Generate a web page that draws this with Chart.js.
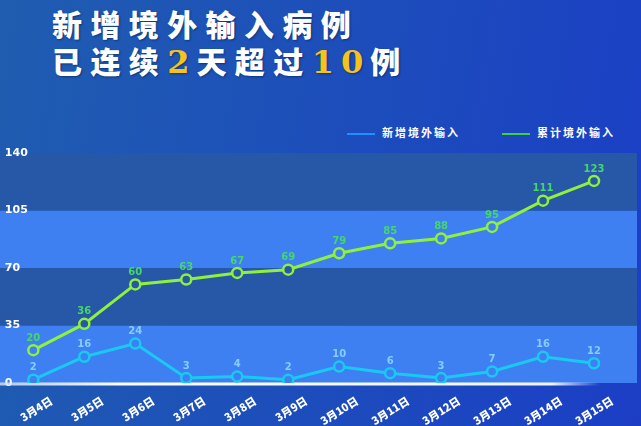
<!DOCTYPE html>
<html>
<head>
<meta charset="utf-8">
<script src="https://cdn.jsdelivr.net/npm/chart.js@4.4.1/dist/chart.umd.min.js"></script>
<style>
  html, body { margin: 0; padding: 0; }
  body {
    width: 641px; height: 426px; overflow: hidden; position: relative;
    background: linear-gradient(100deg, #1f5db0 0%, #1d4fba 45%, #1b3ec6 100%);
    font-family: "Noto Sans CJK SC", "Noto Sans", sans-serif;
  }
  #title {
    position: absolute; left: 52px; top: 5px;
    color: #fff; font-size: 30px; font-weight: 900; line-height: 37px;
    letter-spacing: 8.4px; white-space: nowrap;
    text-shadow: 1px 1px 2px rgba(0, 20, 60, 0.5);
  }
  #title .num {
    color: #f6c21c; font-family: "DejaVu Serif", serif; font-weight: 700; font-size: 32px;
    letter-spacing: 7px;
  }
  #legend {
    position: absolute; top: 124px; left: 0; width: 641px; height: 16px;
    color: #fff; font-size: 11px; font-weight: 700; letter-spacing: 2px;
  }
  .item { position: absolute; top: 0; height: 16px; line-height: 16px; white-space: nowrap; }
  .item i { display: inline-block; width: 28px; height: 2px; vertical-align: middle; margin-right: 7px; }
  canvas { position: absolute; left: 0; top: 0; }
</style>
</head>
<body>
<div id="title">新增境外输入病例<br>已连续<span class="num">2</span>天超过<span class="num">10</span>例</div>
<div id="legend"></div>
<canvas id="myChart" width="641" height="426"></canvas>
<script>
const dates = ["3月4日", "3月5日", "3月6日", "3月7日", "3月8日", "3月9日",
               "3月10日", "3月11日", "3月12日", "3月13日", "3月14日", "3月15日"];
const newCases = [2, 16, 24, 3, 4, 2, 10, 6, 3, 7, 16, 12];
const totalCases = [20, 36, 60, 63, 67, 69, 79, 85, 88, 95, 111, 123];
const yTicks = [0, 35, 70, 105, 140];
const seriesNames = ["新增境外输入", "累计境外输入"];
const legendColors = ["#1e8fff", "#3fd03c"];
const legendLeft = [347, 502];

// legend (drawn as html, next to the plot)
const legendBox = document.getElementById('legend');
seriesNames.forEach((name, i) => {
    const item = document.createElement('div');
    item.className = 'item';
    item.style.left = legendLeft[i] + 'px';
    item.innerHTML = `<i style="background:${legendColors[i]}"></i>${name}`;
    legendBox.appendChild(item);
});

const lightBand = "#3e80f2";
const darkBand = "#2758a8";

function bandColorAt(v) {
    const band = Math.floor(v / 35);
    return band % 2 === 0 ? lightBand : darkBand;
}

// striped background bands, drawn before the axes so tick labels stay on top
const bandsPlugin = {
    id: 'bands',
    beforeDraw(chart) {
        const ctx = chart.ctx;
        const y = chart.scales.y;
        ctx.save();
        for (let i = 0; i < yTicks.length - 1; i++) {
            const top = y.getPixelForValue(yTicks[i + 1]);
            const bottom = y.getPixelForValue(yTicks[i]);
            ctx.fillStyle = i % 2 === 0 ? lightBand : darkBand;
            ctx.fillRect(0, top, chart.width - 4, bottom - top);
        }
        ctx.restore();
    },
    beforeDatasetsDraw(chart) {
        const ctx = chart.ctx;
        const zero = chart.scales.y.getPixelForValue(0);
        ctx.save();
        const grad = ctx.createLinearGradient(0, 0, 600, 0);
        grad.addColorStop(0, 'rgba(220,230,245,0.8)');
        grad.addColorStop(0.2, 'rgba(255,255,255,1)');
        grad.addColorStop(0.92, 'rgba(255,255,255,0.95)');
        grad.addColorStop(1, 'rgba(255,255,255,0)');
        ctx.strokeStyle = grad;
        ctx.lineWidth = 3;
        ctx.beginPath();
        ctx.moveTo(0, zero + 1);
        ctx.lineTo(600, zero + 1);
        ctx.stroke();
        ctx.restore();
    }
};

// value labels above each point
const labelColors = ["#86ccff", "#45d865"];
const valueLabelsPlugin = {
    id: 'valueLabels',
    afterDatasetsDraw(chart) {
        const ctx = chart.ctx;
        ctx.save();
        ctx.font = 'bold 10px "DejaVu Sans", sans-serif';
        ctx.textAlign = 'center';
        ctx.textBaseline = 'middle';
        chart.data.datasets.forEach((ds, di) => {
            const meta = chart.getDatasetMeta(di);
            ctx.fillStyle = labelColors[di];
            meta.data.forEach((pt, i) => {
                ctx.fillText(ds.data[i], pt.x, pt.y - 12);
            });
        });
        ctx.restore();
    }
};

new Chart("myChart", {
    type: "line",
    data: {
        labels: dates,
        datasets: [{
            label: seriesNames[0],
            data: newCases,
            borderColor: "#19c9f2",
            borderWidth: 3,
            pointRadius: 5,
            pointHoverRadius: 5,
            pointBorderWidth: 2.5,
            pointBorderColor: "#19c9f2",
            pointBackgroundColor: ctx => bandColorAt(ctx.raw),
            tension: 0
        }, {
            label: seriesNames[1],
            data: totalCases,
            borderColor: "#8ff23a",
            borderWidth: 3,
            pointRadius: 5,
            pointHoverRadius: 5,
            pointBorderWidth: 2.5,
            pointBorderColor: "#8ff23a",
            pointBackgroundColor: ctx => bandColorAt(ctx.raw),
            tension: 0
        }]
    },
    options: {
        responsive: false,
        animation: false,
        layout: { padding: { left: 7.5, right: 21.5, top: 153, bottom: 0 } },
        plugins: {
            legend: { display: false },
            tooltip: { enabled: false }
        },
        scales: {
            x: {
                offset: true,
                grid: { display: false },
                border: { display: false },
                afterFit(scale) { scale.height = 43; },
                ticks: {
                    color: "#ffffff",
                    font: { family: '"Noto Sans CJK SC", sans-serif', size: 11, weight: '900' },
                    minRotation: 32,
                    maxRotation: 32,
                    autoSkip: false,
                    padding: 3,
                    labelOffset: 18
                }
            },
            y: {
                min: 0,
                max: 140,
                grid: { display: false },
                border: { display: false },
                afterFit(scale) { scale.width = 0; },
                afterBuildTicks(scale) { scale.ticks = yTicks.map(v => ({ value: v })); },
                ticks: {
                    mirror: true,
                    padding: -3,
                    color: "#ffffff",
                    font: { family: '"DejaVu Sans", sans-serif', size: 11, weight: 'bold' }
                }
            }
        }
    },
    plugins: [bandsPlugin, valueLabelsPlugin]
});
</script>
</body>
</html>
